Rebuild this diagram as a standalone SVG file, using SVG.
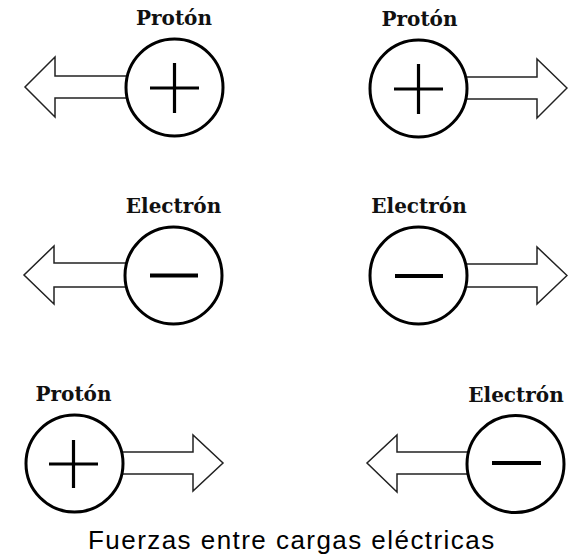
<svg xmlns="http://www.w3.org/2000/svg" width="568" height="557" viewBox="0 0 568 557">
  <style>
    .charge { fill: #fff; stroke: #000; stroke-width: 3; }
    .sign { stroke: #000; stroke-width: 3.2; stroke-linecap: butt; }
    .minus { stroke: #000; stroke-width: 4; }
    .force { fill: #fff; stroke: #222; stroke-width: 1.5; stroke-linejoin: miter; }
    .label { font-family: "DejaVu Serif", "Liberation Serif", serif; font-weight: bold; font-size: 20px; fill: #111; text-anchor: middle; }
    .caption { font-family: "Liberation Sans", Arial, sans-serif; font-size: 26px; letter-spacing: 1.45px; fill: #000; }
  </style>
  <rect width="568" height="557" fill="#fff"/>

  <g id="forces">
    <path class="force" d="M150,76 L55,76 L55,57 L25,87 L55,117 L55,98 L150,98"/>
    <path class="force" d="M440,77 L537,77 L537,59 L567,88 L537,118 L537,99 L440,99"/>
    <path class="force" d="M150,263 L54,263 L54,246 L24,275 L54,304 L54,287 L150,287"/>
    <path class="force" d="M440,264 L537,264 L537,247 L567,275.5 L537,304 L537,287 L440,287"/>
    <path class="force" d="M100,452 L193,452 L193,435 L223,463 L193,491 L193,474 L100,474"/>
    <path class="force" d="M490,452 L397,452 L397,435 L367,463 L397,492 L397,474 L490,474"/>
  </g>

  <g id="proton-top-left">
    <text class="label" x="174" y="25">Protón</text>
    <circle class="charge" cx="174.5" cy="87.5" r="48.5"/>
    <line class="sign" x1="150" y1="88" x2="199" y2="88"/>
    <line class="sign" x1="174.5" y1="63" x2="174.5" y2="113"/>
  </g>

  <g id="proton-top-right">
    <text class="label" x="419.5" y="26">Protón</text>
    <circle class="charge" cx="418.5" cy="88.5" r="48.5"/>
    <line class="sign" x1="394" y1="89" x2="443" y2="89"/>
    <line class="sign" x1="418.5" y1="64" x2="418.5" y2="114"/>
  </g>

  <g id="electron-middle-left">
    <text class="label" x="173.5" y="213">Electrón</text>
    <circle class="charge" cx="173.5" cy="275.5" r="48.5"/>
    <line class="minus" x1="150" y1="275.5" x2="198" y2="275.5"/>
  </g>

  <g id="electron-middle-right">
    <text class="label" x="419" y="213">Electrón</text>
    <circle class="charge" cx="418.5" cy="275.5" r="48.5"/>
    <line class="minus" x1="395" y1="276" x2="443" y2="276"/>
  </g>

  <g id="proton-bottom-left">
    <text class="label" x="73.5" y="401">Protón</text>
    <circle class="charge" cx="74.5" cy="463.5" r="48.5"/>
    <line class="sign" x1="49" y1="464" x2="98" y2="464"/>
    <line class="sign" x1="73.5" y1="440" x2="73.5" y2="488"/>
  </g>

  <g id="electron-bottom-right">
    <text class="label" x="516" y="402">Electrón</text>
    <circle class="charge" cx="515.5" cy="464" r="48.5"/>
    <line class="minus" x1="492" y1="463" x2="541" y2="463"/>
  </g>

  <text class="caption" x="88" y="549">Fuerzas entre cargas eléctricas</text>
</svg>
